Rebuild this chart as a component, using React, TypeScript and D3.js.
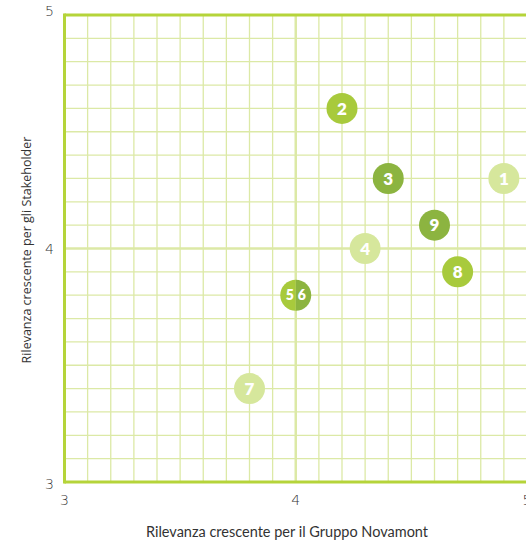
import React from "react";
import * as d3 from "d3";

const labels = ["1", "2", "3", "4", "5", "6", "7", "8", "9"];
const xValues = [4.9, 4.2, 4.4, 4.3, 4.0, 4.0, 3.8, 4.7, 4.6];
const yValues = [4.3, 4.6, 4.3, 4.0, 3.8, 3.8, 3.4, 3.9, 4.1];
const tones = ["light", "medium", "dark", "light", "medium", "dark", "light", "medium", "dark"];
const majorTicks = [3, 4, 5];
const minorTicks = d3.range(31, 50).map((d) => d / 10);

const W = 526;
const H = 540;
const toneColor: Record<string, string> = {
  light: "#d6e79c",
  medium: "#a8ca3c",
  dark: "#8cb440",
};

export default function App() {
  const x = d3.scaleLinear().domain([3, 5]).range([64.5, 527]);
  const y = d3.scaleLinear().domain([3, 5]).range([482, 15]);
  const r = 15.5;
  const leftArc = d3.arc<any>()({ innerRadius: 0, outerRadius: r, startAngle: Math.PI, endAngle: 2 * Math.PI }) as string;
  const rightArc = d3.arc<any>()({ innerRadius: 0, outerRadius: r, startAngle: 0, endAngle: Math.PI }) as string;

  const groups: { key: string; idx: number[] }[] = [];
  labels.forEach((_, i) => {
    const key = `${xValues[i]}_${yValues[i]}`;
    const g = groups.find((gg) => gg.key === key);
    if (g) g.idx.push(i);
    else groups.push({ key, idx: [i] });
  });

  const gridColor = "#dce9a6";
  const axisColor = "#b5d43a";
  const labelFont = "'Lato', 'Open Sans', sans-serif";

  return (
    <svg width={W} height={H} style={{ position: "absolute", left: 0, top: 0 }} fontFamily={labelFont}>
      <rect width={W} height={H} fill="#fff" />
      {minorTicks.map((t) => (
        <g key={"g" + t}>
          <line x1={x(t)} x2={x(t)} y1={y(5)} y2={y(3)} stroke={gridColor} strokeWidth={t === 4 ? 2.5 : 1.3} />
          <line x1={x(3)} x2={x(5)} y1={y(t)} y2={y(t)} stroke={gridColor} strokeWidth={t === 4 ? 2.5 : 1.3} />
        </g>
      ))}
      <line x1={x(5)} x2={x(5)} y1={y(5)} y2={y(3)} stroke={gridColor} strokeWidth={2} />
      <line x1={x(3)} x2={x(3)} y1={y(5) - 1.5} y2={y(3) + 1.5} stroke={axisColor} strokeWidth={3} />
      <line x1={x(3)} x2={W} y1={y(5)} y2={y(5)} stroke={axisColor} strokeWidth={3} />
      <line x1={x(3)} x2={W} y1={y(3)} y2={y(3)} stroke={axisColor} strokeWidth={3} />
      {majorTicks.map((t) => (
        <text key={"yt" + t} x={54} y={y(t)} dy={t === 5 ? "0.1em" : t === 3 ? "0.5em" : "0.4em"} textAnchor="end" fontSize={14} fill="#333" fontFamily="'DejaVu Sans', sans-serif" fontWeight={300}>
          {t}
        </text>
      ))}
      {majorTicks.map((t) => (
        <text key={"xt" + t} x={x(t)} y={505} textAnchor="middle" fontSize={14} fill="#333" fontFamily="'DejaVu Sans', sans-serif" fontWeight={300}>
          {t}
        </text>
      ))}
      <text x={287} y={537} textAnchor="middle" fontSize={14.5} fill="#333" fontFamily={labelFont}>
        Rilevanza crescente per il Gruppo Novamont
      </text>
      <text transform={`translate(31,${250}) rotate(-90)`} textAnchor="middle" fontSize={12.5} fill="#333" fontFamily="'Open Sans', sans-serif">
        Rilevanza crescente per gli Stakeholder
      </text>
      {groups.map((g) => {
        const i0 = g.idx[0];
        const cx = x(xValues[i0]);
        const cy = y(yValues[i0]);
        if (g.idx.length === 1) {
          return (
            <g key={g.key} transform={`translate(${cx},${cy})`}>
              <circle r={r} fill={toneColor[tones[i0]]} />
              <text textAnchor="middle" dy="0.36em" fontSize={17} fontWeight={800} fill="#fff" fontFamily="'Lato', sans-serif">
                {labels[i0]}
              </text>
            </g>
          );
        }
        const [a, b] = g.idx;
        return (
          <g key={g.key} transform={`translate(${cx},${cy})`}>
            <path d={leftArc} fill={toneColor[tones[a]]} />
            <path d={rightArc} fill={toneColor[tones[b]]} />
            <text x={-6} textAnchor="middle" dy="0.36em" fontSize={14} fontWeight={800} fill="#fff" fontFamily="'Lato', sans-serif">
              {labels[a]}
            </text>
            <text x={6} textAnchor="middle" dy="0.36em" fontSize={14} fontWeight={800} fill="#fff" fontFamily="'Lato', sans-serif">
              {labels[b]}
            </text>
          </g>
        );
      })}
    </svg>
  );
}
